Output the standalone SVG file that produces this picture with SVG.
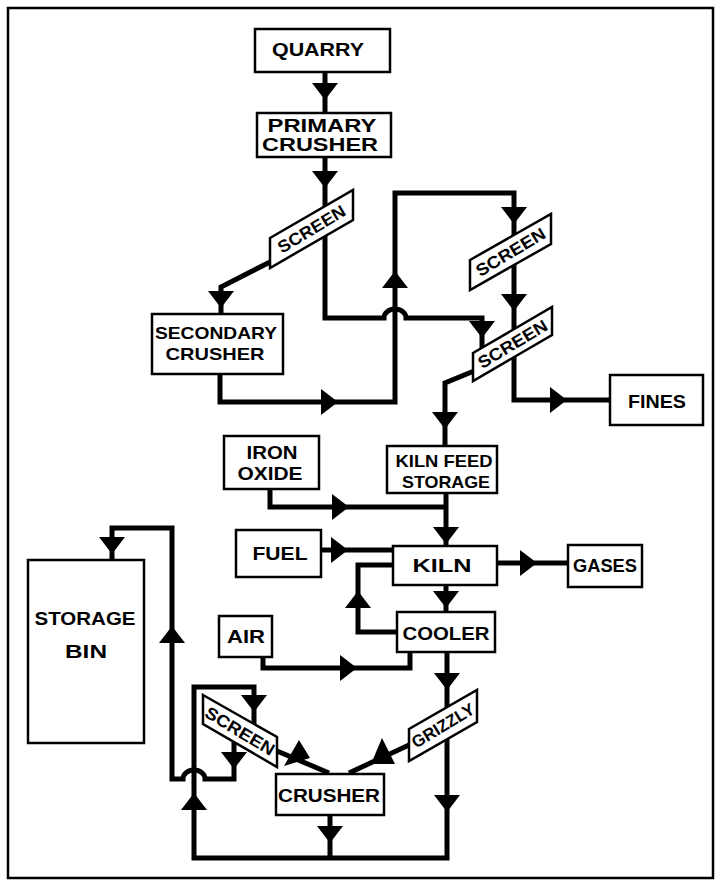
<svg xmlns="http://www.w3.org/2000/svg" width="716" height="882" viewBox="0 0 716 882">
<style>
.box{fill:#fff;stroke:#000;stroke-width:2.5}
.ln{fill:none;stroke:#000;stroke-width:5;stroke-linejoin:miter}
.fr{fill:none;stroke:#000;stroke-width:2.5}
.t{font-family:"Liberation Sans",Arial,sans-serif;font-weight:bold;font-size:18px;text-anchor:middle;fill:#000}
.s{font-size:17px}
.r{font-size:17px}
</style>
<defs>
<path id="ah" d="M-13,-8 L13,-8 L0,9 Z" fill="#000"/>
</defs>
<rect class="fr" x="8" y="8" width="705" height="870"/>
<g id="connectors">
<path class="ln" d="M325,72 V113"/>
<path class="ln" d="M325,157 V318 H384 A11,9 0 0 1 406,318 H482 V348"/>
<path class="ln" d="M272,261 L221,287 V314"/>
<path class="ln" d="M220,374 V402 H395 V193 H514 V400 H610"/>
<path class="ln" d="M474,371 L445,383 V446"/>
<path class="ln" d="M270,489 V507 H445"/>
<path class="ln" d="M446,493 V546"/>
<path class="ln" d="M321,550 H393"/>
<path class="ln" d="M393,565 H358 V632 H397"/>
<path class="ln" d="M497,563 H568"/>
<path class="ln" d="M446,585 V612"/>
<path class="ln" d="M263,656 V668 H410 V652"/>
<path class="ln" d="M447,652 V858 H194 V687 H254 V724"/>
<path class="ln" d="M409,745 L349,773"/>
<path class="ln" d="M277,751 L329,773"/>
<path class="ln" d="M330,815 V858"/>
<path class="ln" d="M234,742 V779 H205 A11,9 0 0 0 183,779 H172 V528 H112 V560"/>
<use href="#ah" transform="translate(325,91)"/>
<use href="#ah" transform="translate(325,179)"/>
<use href="#ah" transform="translate(221,299)"/>
<use href="#ah" transform="translate(329,402) rotate(-90)"/>
<use href="#ah" transform="translate(395,280) rotate(180)"/>
<use href="#ah" transform="translate(514,215)"/>
<use href="#ah" transform="translate(514,302)"/>
<use href="#ah" transform="translate(482,329)"/>
<use href="#ah" transform="translate(558,400) rotate(-90)"/>
<use href="#ah" transform="translate(445,420)"/>
<use href="#ah" transform="translate(340,507) rotate(-90)"/>
<use href="#ah" transform="translate(446,535)"/>
<use href="#ah" transform="translate(339,550) rotate(-90)"/>
<use href="#ah" transform="translate(358,600) rotate(180)"/>
<use href="#ah" transform="translate(528,563) rotate(-90)"/>
<use href="#ah" transform="translate(446,599)"/>
<use href="#ah" transform="translate(348,668) rotate(-90)"/>
<use href="#ah" transform="translate(447,681)"/>
<use href="#ah" transform="translate(447,803)"/>
<use href="#ah" transform="translate(330,834)"/>
<use href="#ah" transform="translate(194,802) rotate(180)"/>
<use href="#ah" transform="translate(254,703)"/>
<use href="#ah" transform="translate(234,760)"/>
<use href="#ah" transform="translate(172,635) rotate(180)"/>
<use href="#ah" transform="translate(112,545)"/>
<polygon points="299,740 284,766 310,758" fill="#000"/>
<polygon points="382,738 371,764 395,764" fill="#000"/>
</g>
<g id="quarry"><rect class="box" x="255" y="29" width="135" height="43"/><text class="t" x="318" y="56" textLength="92" lengthAdjust="spacingAndGlyphs">QUARRY</text></g>
<g id="primary-crusher"><rect class="box" x="257" y="113" width="134" height="44"/><text class="t" x="322" y="132" textLength="109" lengthAdjust="spacingAndGlyphs">PRIMARY</text><text class="t" x="320" y="151" textLength="116" lengthAdjust="spacingAndGlyphs">CRUSHER</text></g>
<g id="screen1"><polygon class="box" points="270,238 353,190 353,220 270,268"/><text class="t r" transform="translate(311.5,229) rotate(-31)" x="0" y="6" textLength="76" lengthAdjust="spacingAndGlyphs">SCREEN</text></g>
<g id="secondary-crusher"><rect class="box" x="152" y="314" width="131" height="60"/><text class="t s" x="216" y="339" textLength="122" lengthAdjust="spacingAndGlyphs">SECONDARY</text><text class="t s" x="215" y="360" textLength="99" lengthAdjust="spacingAndGlyphs">CRUSHER</text></g>
<g id="screen2"><polygon class="box" points="470,260 551,214 551,244 470,290"/><text class="t r" transform="translate(510.5,252) rotate(-31)" x="0" y="6" textLength="78" lengthAdjust="spacingAndGlyphs">SCREEN</text></g>
<g id="screen3"><polygon class="box" points="473,353 552,307 552,335 473,381"/><text class="t r" transform="translate(512.5,344) rotate(-31)" x="0" y="6" textLength="78" lengthAdjust="spacingAndGlyphs">SCREEN</text></g>
<g id="fines"><rect class="box" x="610" y="375" width="93" height="50"/><text class="t" x="657" y="408" textLength="58" lengthAdjust="spacingAndGlyphs">FINES</text></g>
<g id="iron-oxide"><rect class="box" x="224" y="436" width="95" height="53"/><text class="t" x="272" y="459" textLength="51" lengthAdjust="spacingAndGlyphs">IRON</text><text class="t" x="270" y="480" textLength="65" lengthAdjust="spacingAndGlyphs">OXIDE</text></g>
<g id="kiln-feed-storage"><rect class="box" x="387" y="446" width="110" height="47"/><text class="t s" x="444" y="467" textLength="97" lengthAdjust="spacingAndGlyphs">KILN FEED</text><text class="t s" x="446" y="488" textLength="88" lengthAdjust="spacingAndGlyphs">STORAGE</text></g>
<g id="fuel"><rect class="box" x="236" y="530" width="85" height="47"/><text class="t" x="280" y="560" textLength="55" lengthAdjust="spacingAndGlyphs">FUEL</text></g>
<g id="kiln"><rect class="box" x="393" y="546" width="104" height="39"/><text class="t" x="442" y="572" textLength="59" lengthAdjust="spacingAndGlyphs">KILN</text></g>
<g id="gases"><rect class="box" x="568" y="545" width="74" height="42"/><text class="t" x="605" y="572" textLength="64" lengthAdjust="spacingAndGlyphs">GASES</text></g>
<g id="cooler"><rect class="box" x="397" y="612" width="98" height="40"/><text class="t" x="446" y="640" textLength="87" lengthAdjust="spacingAndGlyphs">COOLER</text></g>
<g id="air"><rect class="box" x="219" y="616" width="53" height="41"/><text class="t" x="246" y="643" textLength="38" lengthAdjust="spacingAndGlyphs">AIR</text></g>
<g id="storage-bin"><rect class="box" x="28" y="560" width="116" height="183"/><text class="t" x="85" y="625" textLength="101" lengthAdjust="spacingAndGlyphs">STORAGE</text><text class="t" x="86" y="658" textLength="42" lengthAdjust="spacingAndGlyphs">BIN</text></g>
<g id="screen4"><polygon class="box" points="203,695 277,737 277,767 203,724"/><text class="t r" transform="translate(240,731) rotate(31)" x="0" y="6" textLength="78" lengthAdjust="spacingAndGlyphs">SCREEN</text></g>
<g id="grizzly"><polygon class="box" points="409,729 477,690 477,722 409,761"/><text class="t r" transform="translate(443,725.5) rotate(-31)" x="0" y="6" textLength="70" lengthAdjust="spacingAndGlyphs">GRIZZLY</text></g>
<g id="crusher"><rect class="box" x="276" y="774" width="108" height="41"/><text class="t" x="329" y="802" textLength="102" lengthAdjust="spacingAndGlyphs">CRUSHER</text></g>
</svg>
